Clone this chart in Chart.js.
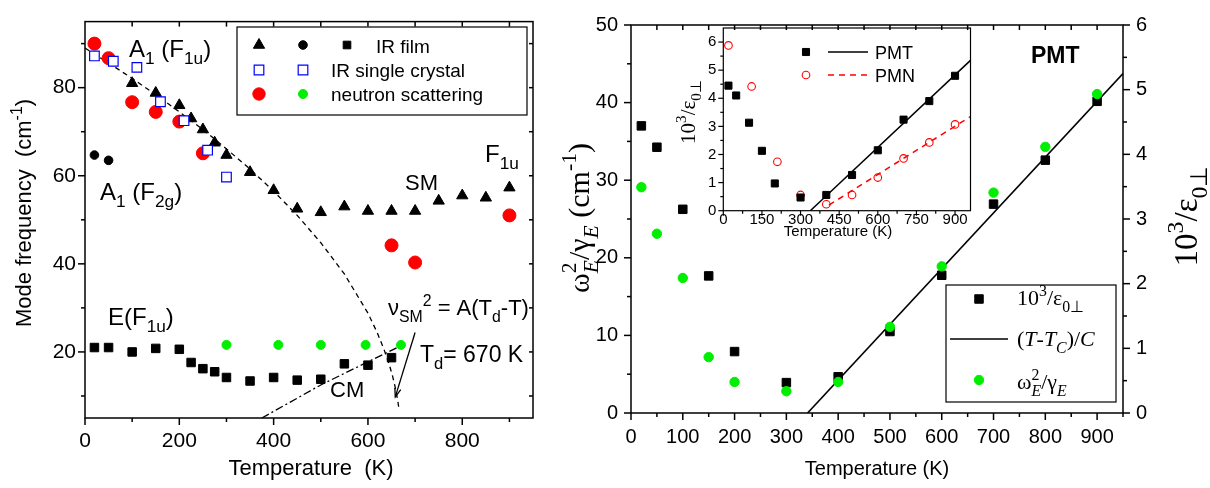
<!DOCTYPE html>
<html><head><meta charset="utf-8">
<script src="https://cdn.jsdelivr.net/npm/chart.js@4.4.0/dist/chart.umd.min.js"></script>
<style>
html,body{margin:0;padding:0;background:#fff;}
#wrap{position:relative;width:1210px;height:488px;overflow:hidden;background:#fff;}
canvas{position:absolute;}
</style></head><body>
<div id="wrap">
<canvas id="cL" width="560" height="488" style="left:0;top:0;width:560px;height:488px"></canvas>
<canvas id="cR" width="650" height="488" style="left:560px;top:0;width:650px;height:488px"></canvas>
<canvas id="cI" width="340" height="245" style="left:640px;top:0;width:340px;height:245px"></canvas>
</div>
<script>
// ---------------- LEFT PANEL DATA ----------------
const L_TRI_T = [100,150,200,225,250,275,300,350,400,450,500,550,600,650,700,750,800,850,900];
const L_TRI_V = [81.0,78.8,76.0,73.0,70.5,67.5,64.7,60.8,56.7,52.5,51.7,53.0,52.0,52.0,52.0,54.3,55.5,55.0,57.3];
const L_CIRC_T = [20,50];
const L_CIRC_V = [64.7,63.5];
const L_SQ_T = [20,50,100,150,200,225,250,275,300,350,400,450,500,550,600,650];
const L_SQ_V = [21.0,21.0,20.0,20.8,20.6,17.6,16.2,15.5,14.2,13.4,14.2,13.6,13.8,17.3,17.0,18.7];
const L_BLUE_T = [20,60,110,160,210,260,300];
const L_BLUE_V = [87.2,86.0,84.6,76.8,72.5,65.8,59.7];
const L_RED_T = [20,50,100,150,200,250,650,700,900];
const L_RED_V = [90.0,86.7,76.7,74.5,72.3,65.1,44.2,40.3,51.0];
const L_GREEN_T = [300,410,500,595,670];
const L_GREEN_V = [21.6,21.6,21.6,21.6,21.6];
const L_SMFIT_T = [0,50,100,150,200,250,300,350,400,450,500,550,600,620,635,645,652,658,663,666];
const L_SMFIT_V = [89.0,85.6,82.1,78.4,74.5,70.5,66.1,61.5,56.5,51.0,44.8,37.7,28.8,24.3,20.3,17.2,14.6,11.9,9.1,6.9];
const L_CMFIT_T = [375,500,662];
const L_CMFIT_V = [5.0,12.5,21.0];
const L_ARROW_T = [700,658];
const L_ARROW_V = [24.4,9.8];
const L_XTICKS = [0,200,400,600,800];
const L_YTICKS = [20,40,60,80];

// ---------------- RIGHT PANEL DATA ----------------
const R_T = [20,50,100,150,200,300,400,500,600,700,800,900];
const R_EPS = [4.44,4.11,3.15,2.12,0.95,0.47,0.56,1.26,2.13,3.23,3.91,4.82];
const R_OMG = [29.1,23.1,17.4,7.2,4.0,2.8,4.0,11.1,18.9,28.4,34.3,41.1];
const R_FIT_T = [341,950];
const R_FIT_V = [0,5.25];
const R_XTICKS = [0,100,200,300,400,500,600,700,800,900];
const R_YTICKS = [0,10,20,30,40,50];
const R_Y2TICKS = [0,1,2,3,4,5,6];

// ---------------- INSET DATA ----------------
const I_PMT_T = [20,50,100,150,200,300,400,500,600,700,800,900];
const I_PMT_V = [4.45,4.10,3.13,2.13,0.97,0.47,0.56,1.27,2.15,3.24,3.90,4.80];
const I_PMN_T = [20,110,210,300,400,500,600,700,800,900];
const I_PMN_V = [5.88,4.42,1.74,0.56,0.23,0.56,1.18,1.86,2.43,3.07];
const I_PMTFIT_T = [338,960];
const I_PMTFIT_V = [0,5.35];
const I_PMNFIT_T = [410,960];
const I_PMNFIT_V = [0.2,3.35];
const I_XTICKS = [0,150,300,450,600,750,900];
const I_YTICKS = [0,1,2,3,4,5,6];

const SANS = 'Liberation Sans', SERIF = 'Liberation Serif';
const GREEN = '#00ee00', RED = '#ff0000', BLUE = '#0000ff';

function pts(T, V) { return T.map((t, i) => ({x: t, y: V[i]})); }

function rich(ctx, runs, x, y, o) {
  const fam = o.family || SANS, size = o.size || 20, sc = o.scale || 0.72;
  const subDy = o.subDy != null ? o.subDy : size * 0.3;
  const supDy = o.supDy != null ? o.supDy : -size * 0.42;
  const font = (f, s) => (f.includes('i') ? 'italic ' : '') + (f.includes('B') ? 'bold ' : '') + s + 'px "' + fam + '"';
  ctx.save(); ctx.translate(x, y); if (o.rot) ctx.rotate(o.rot);
  ctx.textAlign = 'left'; ctx.textBaseline = 'alphabetic'; ctx.fillStyle = o.color || '#000';
  const items = []; let w = 0;
  for (const r of runs) {
    if (r.stack) {
      const s = size * sc; let mw = 0;
      for (const [t, f] of r.stack) { ctx.font = font(f, s); mw = Math.max(mw, ctx.measureText(t).width); }
      items.push({stack: r.stack, x: w, s}); w += mw;
    } else {
      const t = r[0], f = r[1] || '';
      const s = (f.includes('b') || f.includes('p')) ? size * sc : size;
      ctx.font = font(f, s); const mw = ctx.measureText(t).width;
      items.push({t, f, x: w, s}); w += mw;
    }
  }
  const x0 = o.align === 'center' ? -w / 2 : o.align === 'right' ? -w : 0;
  for (const it of items) {
    if (it.stack) {
      const [[t1, f1], [t2, f2]] = it.stack;
      ctx.font = font(f1, it.s); ctx.fillText(t1, x0 + it.x, supDy);
      ctx.font = font(f2, it.s); ctx.fillText(t2, x0 + it.x, subDy);
    } else {
      ctx.font = font(it.f, it.s);
      const dy = it.f.includes('b') ? subDy : it.f.includes('p') ? supDy : 0;
      ctx.fillText(it.t, x0 + it.x, dy);
    }
  }
  ctx.restore();
}

function drawTicks(chart, specs, bw) {
  const ctx = chart.ctx, a = chart.chartArea;
  ctx.save();
  ctx.strokeStyle = '#000'; ctx.lineWidth = bw;
  ctx.strokeRect(a.left, a.top, a.right - a.left, a.bottom - a.top);
  for (const sp of specs) {
    const sc = chart.scales[sp.scale];
    for (const v of sp.vals) {
      const p = sc.getPixelForValue(v);
      ctx.beginPath();
      if (sp.edge === 'bottom') { ctx.moveTo(p, a.bottom); ctx.lineTo(p, a.bottom + (sp.out ? sp.len : -sp.len)); }
      else if (sp.edge === 'top') { ctx.moveTo(p, a.top); ctx.lineTo(p, a.top + (sp.out ? -sp.len : sp.len)); }
      else if (sp.edge === 'left') { ctx.moveTo(a.left, p); ctx.lineTo(a.left + (sp.out ? -sp.len : sp.len), p); }
      else { ctx.moveTo(a.right, p); ctx.lineTo(a.right + (sp.out ? sp.len : -sp.len), p); }
      ctx.stroke();
    }
  }
  ctx.restore();
}

function mkScale(min, max, ticks, fit, pad, size, pos) {
  return {
    type: 'linear', position: pos, min, max,
    afterBuildTicks: s => { s.ticks = ticks.map(v => ({value: v})); },
    afterFit: fit,
    grid: {display: false, drawTicks: false}, border: {display: false},
    ticks: {padding: pad, font: {family: SANS, size}, color: '#000', maxRotation: 0, autoSkip: false, callback: v => String(v)}
  };
}

function sym(ctx, style, r, fill, stroke, bw, x, y) {
  ctx.save();
  ctx.fillStyle = fill; ctx.strokeStyle = stroke; ctx.lineWidth = bw;
  Chart.helpers.drawPoint(ctx, {pointStyle: style, radius: r, borderWidth: bw, rotation: 0}, x, y);
  ctx.restore();
}

const baseOpts = (padding) => ({
  responsive: false, animation: false, events: [],
  layout: {padding},
  plugins: {legend: {display: false}, tooltip: {enabled: false}, title: {display: false}}
});

// ================= LEFT CHART =================
const leftPlugin = {
  id: 'leftDeco',
  afterDatasetsDraw(chart) {
    drawTicks(chart, [
      {scale: 'x', edge: 'bottom', vals: L_XTICKS, len: 7, out: true},
      {scale: 'x', edge: 'bottom', vals: [100,300,500,700,900], len: 4, out: true},
      {scale: 'x', edge: 'top', vals: [100,200,300,400,500,600,700,800,900], len: 5, out: false},
      {scale: 'y', edge: 'left', vals: L_YTICKS, len: 7, out: true},
      {scale: 'y', edge: 'left', vals: [10,30,50,70,90], len: 4, out: true},
      {scale: 'y', edge: 'right', vals: [10,20,30,40,50,60,70,80,90], len: 4, out: false}
    ], 1.5);
    const ctx = chart.ctx, xs = chart.scales.x, ys = chart.scales.y;
    // arrow
    const x1 = xs.getPixelForValue(L_ARROW_T[0]), y1 = ys.getPixelForValue(L_ARROW_V[0]);
    const x2 = xs.getPixelForValue(L_ARROW_T[1]), y2 = ys.getPixelForValue(L_ARROW_V[1]);
    ctx.save(); ctx.strokeStyle = '#000'; ctx.lineWidth = 1.3;
    ctx.beginPath(); ctx.moveTo(x1, y1); ctx.lineTo(x2, y2); ctx.stroke();
    const ang = Math.atan2(y2 - y1, x2 - x1);
    ctx.beginPath();
    ctx.moveTo(x2 - 9 * Math.cos(ang - 0.35), y2 - 9 * Math.sin(ang - 0.35));
    ctx.lineTo(x2, y2);
    ctx.lineTo(x2 - 9 * Math.cos(ang + 0.35), y2 - 9 * Math.sin(ang + 0.35));
    ctx.stroke();
    ctx.restore();
    // legend box
    ctx.save(); ctx.strokeStyle = '#000'; ctx.lineWidth = 1.2;
    ctx.strokeRect(237, 27, 290, 88); ctx.restore();
    sym(ctx, 'triangle', 6.5, '#000', '#000', 1, 259, 45);
    sym(ctx, 'circle', 4.3, '#000', '#000', 1, 303, 45);
    sym(ctx, 'rect', 5.4, '#000', '#000', 1, 347, 45);
    sym(ctx, 'rect', 6.8, '#fff', BLUE, 1.2, 259, 70);
    sym(ctx, 'rect', 6.8, '#fff', BLUE, 1.2, 303, 70);
    sym(ctx, 'circle', 6.2, RED, RED, 1, 259, 94);
    sym(ctx, 'circle', 4.5, GREEN, GREEN, 1, 303, 94);
    rich(ctx, [['IR film']], 376, 53, {size: 19});
    rich(ctx, [['IR single crystal']], 331, 77, {size: 19});
    rich(ctx, [['neutron scattering']], 331, 101, {size: 19});
    // annotations
    rich(ctx, [['A'], ['1', 'b'], [' (F'], ['1u', 'b'], [')']], 129, 57, {size: 24});
    rich(ctx, [['A'], ['1', 'b'], [' (F'], ['2g', 'b'], [')']], 100, 200, {size: 24});
    rich(ctx, [['SM']], 405, 190, {size: 22});
    rich(ctx, [['F'], ['1u', 'b']], 485, 162, {size: 24});
    rich(ctx, [['E(F'], ['1u', 'b'], [')']], 108, 325, {size: 24});
    rich(ctx, [['ν'], ['SM', 'b'], ['2', 'p'], [' = A(T'], ['d', 'b'], ['-T)']], 388, 315, {size: 22});
    rich(ctx, [['T'], ['d', 'b'], ['= 670 K']], 420, 362, {size: 23});
    rich(ctx, [['CM']], 330, 397, {size: 22});
    // axis titles
    rich(ctx, [['Temperature  (K)']], 311, 475, {size: 22, align: 'center'});
    rich(ctx, [['Mode frequency  (cm'], ['-1', 'p'], [')']], 31, 213, {size: 22, align: 'center', rot: -Math.PI / 2});
  }
};

new Chart(document.getElementById('cL'), {
  type: 'scatter',
  data: {datasets: [
    {data: pts(L_BLUE_T, L_BLUE_V), pointStyle: 'rect', pointRadius: 6.8, backgroundColor: '#fff', borderColor: BLUE, borderWidth: 1.2},
    {data: pts(L_TRI_T, L_TRI_V), pointStyle: 'triangle', pointRadius: 6.5, backgroundColor: '#000', borderColor: '#000', borderWidth: 1},
    {data: pts(L_SQ_T, L_SQ_V), pointStyle: 'rect', pointRadius: 6.0, backgroundColor: '#000', borderColor: '#000', borderWidth: 1},
    {data: pts(L_CIRC_T, L_CIRC_V), pointStyle: 'circle', pointRadius: 4.3, backgroundColor: '#000', borderColor: '#000', borderWidth: 1},
    {data: pts(L_GREEN_T, L_GREEN_V), pointStyle: 'circle', pointRadius: 4.5, backgroundColor: GREEN, borderColor: GREEN, borderWidth: 1},
    {data: pts(L_RED_T, L_RED_V), pointStyle: 'circle', pointRadius: 6.5, backgroundColor: RED, borderColor: RED, borderWidth: 1},
    {data: pts(L_SMFIT_T, L_SMFIT_V), showLine: true, pointRadius: 0, borderColor: '#000', borderWidth: 1.3, borderDash: [5, 4], fill: false},
    {data: pts(L_CMFIT_T, L_CMFIT_V), showLine: true, pointRadius: 0, borderColor: '#000', borderWidth: 1.3, borderDash: [8, 3, 2, 3], fill: false}
  ]},
  options: Object.assign(baseOpts({left: 0, top: 18, right: 27, bottom: 0}), {
    scales: {
      x: mkScale(0, 950, L_XTICKS, s => { s.height = 70; }, 11, 21, 'bottom'),
      y: mkScale(5, 95, L_YTICKS, s => { s.width = 85; }, 9, 21, 'left')
    }
  }),
  plugins: [leftPlugin]
});

// ================= RIGHT CHART =================
const rightPlugin = {
  id: 'rightDeco',
  afterDatasetsDraw(chart) {
    drawTicks(chart, [
      {scale: 'x', edge: 'bottom', vals: R_XTICKS, len: 7, out: true},
      {scale: 'x', edge: 'bottom', vals: [50,150,250,350,450,550,650,750,850,950], len: 4, out: true},
      {scale: 'x', edge: 'top', vals: [50,100,150,200,250,300,350,400,450,500,550,600,650,700,750,800,850,900], len: 5, out: false},
      {scale: 'y', edge: 'left', vals: R_YTICKS, len: 7, out: true},
      {scale: 'y', edge: 'left', vals: [5,15,25,35,45], len: 4, out: true},
      {scale: 'y2', edge: 'right', vals: R_Y2TICKS, len: 7, out: true},
      {scale: 'y2', edge: 'right', vals: [0.5,1.5,2.5,3.5,4.5,5.5], len: 4, out: true}
    ], 1.5);
    const ctx = chart.ctx;
    const ox = 560;
    rich(ctx, [['PMT', 'B']], 1031 - ox, 63, {size: 23});
    // legend
    ctx.save(); ctx.strokeStyle = '#000'; ctx.lineWidth = 1.2;
    ctx.strokeRect(946 - ox, 285, 170, 117);
    ctx.beginPath(); ctx.lineWidth = 1.5; ctx.moveTo(950 - ox, 339); ctx.lineTo(1008 - ox, 339); ctx.stroke();
    ctx.restore();
    sym(ctx, 'rect', 6.0, '#000', '#000', 1, 979 - ox, 299);
    sym(ctx, 'circle', 4.7, GREEN, GREEN, 1, 979 - ox, 380);
    rich(ctx, [['10'], ['3', 'p'], ['/ε'], ['0⊥', 'b']], 1017 - ox, 305, {size: 22, family: SERIF});
    rich(ctx, [['('], ['T', 'i'], ['-'], ['T', 'i'], ['C', 'bi'], [')/'], ['C', 'i']], 1017 - ox, 346, {size: 22, family: SERIF});
    rich(ctx, [['ω'], {stack: [['2', ''], ['E', 'i']]}, ['/γ'], ['E', 'bi']], 1017 - ox, 389, {size: 22, family: SERIF});
    // axis titles
    rich(ctx, [['Temperature (K)']], 877 - ox, 475, {size: 20, align: 'center'});
    rich(ctx, [['ω'], {stack: [['2', ''], ['E', 'i']]}, ['/γ'], ['E', 'bi'], [' (cm'], ['-1', 'p'], [')']], 589 - ox, 218,
         {size: 30, family: SERIF, align: 'center', rot: -Math.PI / 2});
    rich(ctx, [['10'], ['3', 'p'], ['/ε'], ['0⊥', 'b']], 1197 - ox, 216, {size: 33, family: SERIF, align: 'center', rot: -Math.PI / 2});
  }
};

new Chart(document.getElementById('cR'), {
  type: 'scatter',
  data: {datasets: [
    {data: pts(R_T, R_OMG), yAxisID: 'y', pointStyle: 'circle', pointRadius: 4.7, backgroundColor: GREEN, borderColor: GREEN, borderWidth: 1},
    {data: pts(R_T, R_EPS), yAxisID: 'y2', pointStyle: 'rect', pointRadius: 6.0, backgroundColor: '#000', borderColor: '#000', borderWidth: 1},
    {data: pts(R_FIT_T, R_FIT_V), yAxisID: 'y2', showLine: true, pointRadius: 0, borderColor: '#000', borderWidth: 1.6, fill: false}
  ]},
  options: Object.assign(baseOpts({left: 0, top: 16, right: 0, bottom: 0}), {
    scales: {
      x: mkScale(0, 950, R_XTICKS, s => { s.height = 75; }, 12, 20, 'bottom'),
      y: mkScale(0, 50, R_YTICKS, s => { s.width = 71; }, 13, 20, 'left'),
      y2: mkScale(0, 6, R_Y2TICKS, s => { s.width = 87; }, 13, 20, 'right')
    }
  }),
  plugins: [rightPlugin]
});

// ================= INSET =================
const insetPlugin = {
  id: 'insetDeco',
  afterDatasetsDraw(chart) {
    drawTicks(chart, [
      {scale: 'x', edge: 'bottom', vals: I_XTICKS, len: 5, out: true},
      {scale: 'x', edge: 'bottom', vals: [75,225,375,525,675,825], len: 3, out: true},
      {scale: 'y', edge: 'left', vals: I_YTICKS, len: 5, out: true},
      {scale: 'y', edge: 'left', vals: [0.5,1.5,2.5,3.5,4.5,5.5], len: 3, out: true}
    ], 1.2);
    const ctx = chart.ctx, ox = 640;
    sym(ctx, 'rect', 5.0, '#000', '#000', 1, 806 - ox, 52);
    sym(ctx, 'circle', 3.8, 'rgba(0,0,0,0)', RED, 1.1, 806 - ox, 75);
    ctx.save(); ctx.lineWidth = 1.5; ctx.strokeStyle = '#000';
    ctx.beginPath(); ctx.moveTo(828 - ox, 52); ctx.lineTo(868 - ox, 52); ctx.stroke();
    ctx.strokeStyle = RED; ctx.setLineDash([6, 5]);
    ctx.beginPath(); ctx.moveTo(828 - ox, 75); ctx.lineTo(868 - ox, 75); ctx.stroke();
    ctx.restore();
    rich(ctx, [['PMT']], 875 - ox, 59, {size: 18});
    rich(ctx, [['PMN']], 875 - ox, 82, {size: 18});
    rich(ctx, [['Temperature (K)']], 838 - ox, 236, {size: 15, align: 'center'});
    rich(ctx, [['10'], ['3', 'p'], ['/ε'], ['0⊥', 'b']], 695 - ox, 112, {size: 21, family: SERIF, align: 'center', rot: -Math.PI / 2});
  }
};

new Chart(document.getElementById('cI'), {
  type: 'scatter',
  data: {datasets: [
    {data: pts(I_PMT_T, I_PMT_V), pointStyle: 'rect', pointRadius: 5.0, backgroundColor: '#000', borderColor: '#000', borderWidth: 1},
    {data: pts(I_PMN_T, I_PMN_V), pointStyle: 'circle', pointRadius: 3.8, backgroundColor: 'rgba(0,0,0,0)', borderColor: RED, borderWidth: 1.1},
    {data: pts(I_PMTFIT_T, I_PMTFIT_V), showLine: true, pointRadius: 0, borderColor: '#000', borderWidth: 1.5, fill: false},
    {data: pts(I_PMNFIT_T, I_PMNFIT_V), showLine: true, pointRadius: 0, borderColor: RED, borderWidth: 1.5, borderDash: [6, 5], fill: false}
  ]},
  options: Object.assign(baseOpts({left: 0, top: 28, right: 9.5, bottom: 0}), {
    scales: {
      x: mkScale(0, 960, I_XTICKS, s => { s.height = 34.3; }, 0, 15, 'bottom'),
      y: mkScale(0, 6.5, I_YTICKS, s => { s.width = 83.3; }, 7, 15, 'left')
    }
  }),
  plugins: [insetPlugin]
});
</script>
</body></html>
